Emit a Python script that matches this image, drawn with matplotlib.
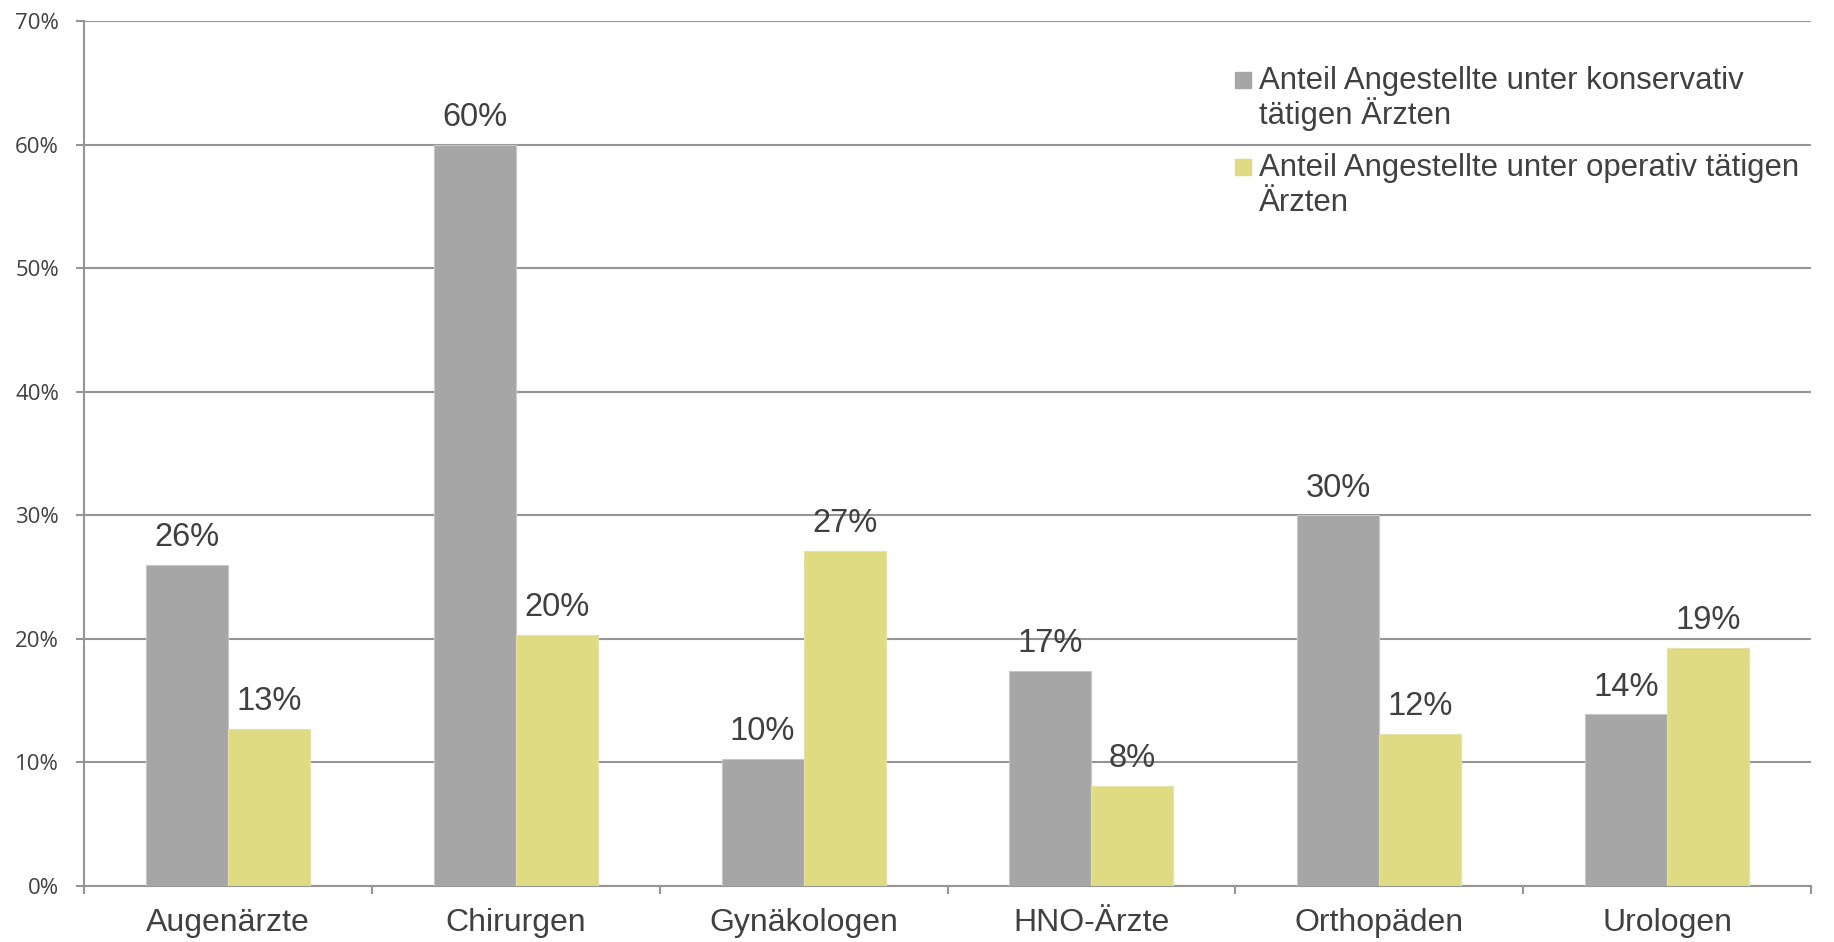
import numpy as np
import matplotlib.pyplot as plt
from matplotlib.patches import Rectangle

# Anteil angestellter Ärzte je Fachgruppe (in %)
fachgruppen = ["Augenärzte", "Chirurgen", "Gynäkologen", "HNO-Ärzte", "Orthopäden", "Urologen"]
konservativ = [26.0, 60.0, 10.3, 17.4, 30.0, 13.9]
operativ = [12.7, 20.3, 27.1, 8.1, 12.3, 19.3]
serien = [["Anteil Angestellte unter konservativ", "tätigen Ärzten"],
          ["Anteil Angestellte unter operativ tätigen", "Ärzten"]]
y_ticks = [0, 10, 20, 30, 40, 50, 60, 70]

grau = "#a6a6a6"
gelb = "#dedb82"
text_farbe = "#404040"
linien_farbe = "#959595"
schrift = "Liberation Sans"

fig = plt.figure(figsize=(18.34, 9.42), dpi=100)
ax = fig.add_axes([0.0458, 0.0594, 0.9417, 0.9183])

x = np.arange(len(fachgruppen))
breite = 0.285
b1 = ax.bar(x - breite / 2, konservativ, breite, color=grau, edgecolor="#c8c8c8", linewidth=0.8, zorder=3)
b2 = ax.bar(x + breite / 2, operativ, breite, color=gelb, edgecolor="#e4e2a8", linewidth=0.8, zorder=3)

# Werte über den Balken
for bars, werte in [(b1, konservativ), (b2, operativ)]:
    for rect, w in zip(bars, werte):
        ax.annotate(f"{w:.0f}%", (rect.get_x() + rect.get_width() / 2, w),
                    xytext=(0, 13.5), textcoords="offset points",
                    ha="center", va="baseline", fontsize=23.5,
                    family=schrift, color=text_farbe)

ax.set_xlim(-0.5, len(fachgruppen) - 0.5)
ax.set_ylim(0, 70)

ax.set_yticks(y_ticks)
ax.set_yticklabels([f"{t}%" for t in y_ticks], family="Open Sans", fontsize=16, color=text_farbe)
ax.yaxis.grid(True, color=linien_farbe, linewidth=1.5, zorder=0)
ax.set_axisbelow(True)

# Trennstriche zwischen den Gruppen, Beschriftung in der Mitte
ax.set_xticks(np.arange(len(fachgruppen) + 1) - 0.5)
ax.set_xticklabels([])
ax.set_xticks(x, minor=True)
ax.set_xticklabels(fachgruppen, minor=True, family=schrift, fontsize=23, color=text_farbe)
ax.tick_params(axis="x", which="major", length=6, width=1.5, color=linien_farbe, direction="out")
ax.tick_params(axis="x", which="minor", length=0, pad=16)
ax.tick_params(axis="y", length=6, width=1.5, color=linien_farbe, pad=12)

for s in ["top", "right"]:
    ax.spines[s].set_visible(False)
for s in ["left", "bottom"]:
    ax.spines[s].set_color(linien_farbe)
    ax.spines[s].set_linewidth(1.5)

# Legende rechts oben (Positionen in Pixeln, umgerechnet auf Achsenanteile)
def ax_x(px):
    return (px - 84) / 1727

def ax_y(py):
    return (886 - py) / 865

for i, (farbe, zeilen) in enumerate(zip([grau, gelb], serien)):
    basis = 89 + i * 87
    ax.add_patch(Rectangle((ax_x(1235), ax_y(basis - 1)), 16 / 1727, 16 / 865,
                           transform=ax.transAxes, color=farbe, clip_on=False, zorder=5))
    for j, zeile in enumerate(zeilen):
        ax.text(ax_x(1259), ax_y(basis + j * 35), zeile, transform=ax.transAxes,
                ha="left", va="baseline", fontsize=22.4, family=schrift,
                color=text_farbe, zorder=5)

fig.savefig("out.png", dpi=100, facecolor="white")
